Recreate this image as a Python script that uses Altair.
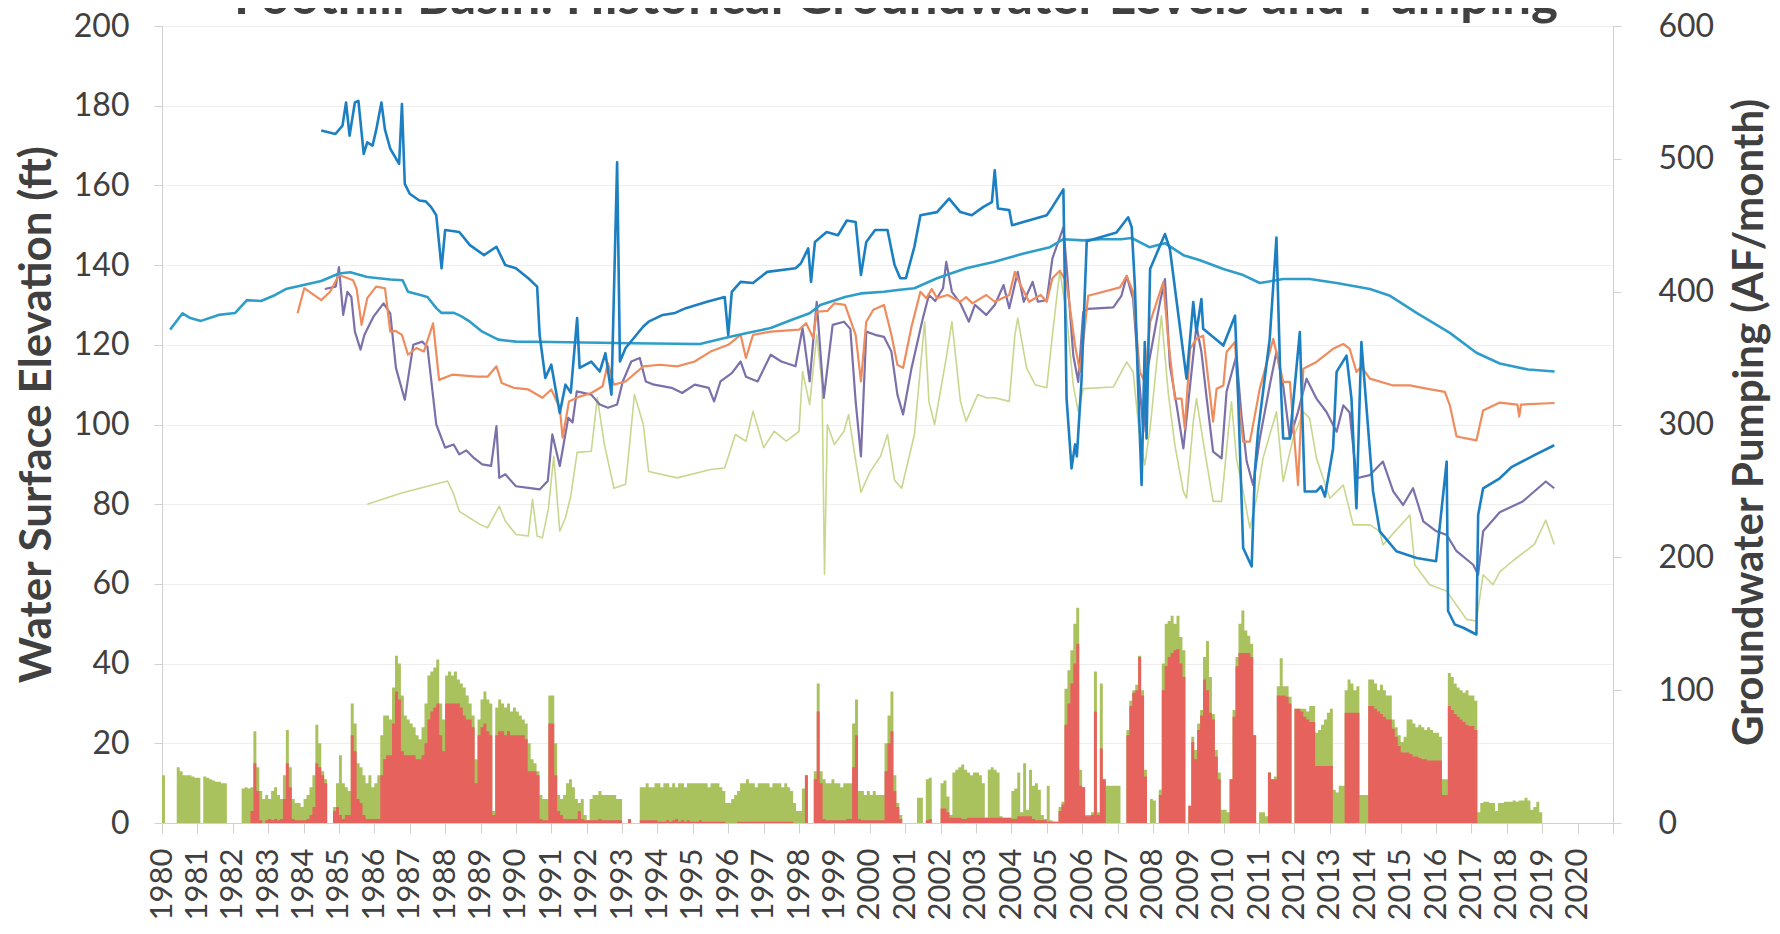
import altair as alt
import pandas as pd

TITLE = "Foothill Basin:  Historical Groundwater Levels and Pumping"
LEFT_TITLE = "Water Surface Elevation (ft)"
RIGHT_TITLE = "Groundwater Pumping (AF/month)"
YEAR_TICKS = list(range(1980, 2022))
LEFT_TICKS = list(range(0, 201, 20))
RIGHT_TICKS = list(range(0, 601, 100))

# ---- water level series (decimal year, ft) ----
SERIES_A = [(1980.23, 123.8), (1980.58, 127.9), (1980.8, 126.7), (1981.1, 126.0), (1981.6, 127.5),
            (1982.07, 128.0), (1982.4, 131.2), (1982.8, 131.0), (1983.2, 132.5), (1983.5, 134.0),
            (1984.0, 135.0), (1984.5, 136.0), (1985.0, 137.9), (1985.32, 138.2), (1985.8, 137.0),
            (1986.45, 136.4), (1986.8, 136.2), (1986.95, 133.3), (1987.3, 132.5), (1987.5, 132.0),
            (1987.75, 129.2), (1987.9, 128.0), (1988.25, 128.0), (1988.45, 127.2), (1988.7, 125.8),
            (1989.05, 123.3), (1989.5, 121.3), (1990.0, 120.8), (1991.0, 120.7), (1993.3, 120.4),
            (1995.2, 120.2), (1995.9, 121.7), (1996.5, 122.9), (1997.2, 124.2), (1997.8, 126.3),
            (1998.3, 127.9), (1998.6, 130.0), (1999.3, 132.0), (1999.75, 132.9), (2000.4, 133.3),
            (2000.85, 133.8), (2001.26, 134.2), (2001.9, 136.7), (2002.72, 139.2), (2003.5, 140.8),
            (2004.35, 142.9), (2005.09, 144.5), (2005.47, 146.5), (2006.03, 146.2), (2006.5, 146.5),
            (2007.1, 146.5), (2007.4, 146.8), (2007.9, 144.5), (2008.34, 145.5), (2008.86, 142.5),
            (2009.33, 141.2), (2009.99, 139.0), (2010.55, 137.5), (2011.02, 135.5), (2011.68, 136.5),
            (2012.43, 136.5), (2013.19, 135.5), (2014.13, 134.0), (2014.7, 132.3), (2015.45, 128.0),
            (2016.39, 123.0), (2017.14, 118.0), (2017.8, 115.3), (2018.6, 113.8), (2019.35, 113.3)]

SERIES_B = [(1984.5, 173.8), (1984.9, 172.9), (1985.1, 175.0), (1985.2, 180.8), (1985.3, 172.5),
            (1985.45, 180.8), (1985.55, 181.2), (1985.7, 167.9), (1985.8, 170.8), (1985.95, 170.0),
            (1986.05, 173.8), (1986.2, 180.8), (1986.3, 174.0), (1986.45, 169.2), (1986.7, 165.4),
            (1986.78, 180.4), (1986.86, 160.4), (1987.0, 157.9), (1987.27, 156.2), (1987.45, 156.0),
            (1987.6, 154.6), (1987.75, 152.5), (1987.9, 139.2), (1988.0, 148.8), (1988.4, 148.3),
            (1988.7, 145.0), (1989.1, 142.5), (1989.45, 144.6), (1989.7, 140.0), (1990.0, 139.2),
            (1990.35, 136.7), (1990.6, 134.6), (1990.67, 122.5), (1990.83, 111.7), (1991.0, 115.0),
            (1991.24, 102.9), (1991.4, 110.0), (1991.55, 108.0), (1991.73, 126.7), (1991.8, 114.2),
            (1992.13, 115.8), (1992.37, 113.3), (1992.53, 117.9), (1992.7, 107.5), (1992.86, 165.8),
            (1992.94, 115.8), (1993.1, 119.2), (1993.6, 124.6), (1993.75, 125.8), (1994.15, 127.5),
            (1994.5, 128.0), (1994.8, 129.2), (1995.4, 130.8), (1995.9, 132.0), (1996.0, 122.5),
            (1996.1, 133.3), (1996.35, 135.8), (1996.7, 135.5), (1997.1, 138.3), (1997.9, 139.2),
            (1998.05, 140.4), (1998.26, 144.2), (1998.34, 135.8), (1998.45, 145.8), (1998.78, 148.3),
            (1999.1, 147.5), (1999.35, 151.2), (1999.6, 150.8), (1999.75, 137.5), (1999.9, 145.8),
            (2000.15, 148.8), (2000.5, 148.8), (2000.7, 140.0), (2000.86, 136.7), (2001.02, 136.7),
            (2001.26, 144.6), (2001.43, 152.5), (2001.9, 153.3), (2002.24, 156.7), (2002.56, 153.3),
            (2002.88, 152.5), (2003.21, 154.6), (2003.45, 155.8), (2003.53, 163.8), (2003.62, 154.2),
            (2003.94, 153.8), (2004.02, 150.0), (2005.0, 152.5), (2005.16, 154.6), (2005.47, 159.0),
            (2005.56, 106.5), (2005.7, 89.0), (2005.8, 95.0), (2005.85, 92.0), (2005.98, 110.7),
            (2006.13, 146.0), (2006.97, 148.2), (2007.3, 152.0), (2007.4, 149.5), (2007.49, 134.8),
            (2007.58, 109.8), (2007.68, 84.8), (2007.77, 120.7), (2007.82, 96.5), (2007.92, 139.0),
            (2008.34, 147.8), (2008.48, 144.0), (2008.95, 111.5), (2009.14, 130.7), (2009.23, 123.2),
            (2009.37, 131.5), (2009.42, 124.0), (2009.99, 119.8), (2010.32, 127.3), (2010.41, 106.5),
            (2010.55, 69.0), (2010.79, 64.4), (2010.88, 88.2), (2010.97, 98.2), (2011.3, 121.5),
            (2011.49, 146.9), (2011.59, 114.8), (2011.68, 96.5), (2011.87, 96.5), (2012.15, 123.2),
            (2012.29, 83.2), (2012.62, 83.2), (2012.75, 84.5), (2012.86, 81.9), (2013.09, 94.0),
            (2013.19, 113.2), (2013.47, 117.3), (2013.61, 106.5), (2013.75, 79.0), (2013.89, 120.7),
            (2014.22, 83.2), (2014.41, 73.2), (2014.88, 68.2), (2015.45, 66.5), (2016.0, 65.7),
            (2016.3, 90.7), (2016.34, 53.2), (2016.53, 49.8), (2016.77, 49.0), (2017.14, 47.3),
            (2017.19, 77.3), (2017.33, 84.0), (2017.8, 86.5), (2018.13, 89.3), (2018.78, 92.3),
            (2019.34, 94.8)]

SERIES_C = [(1983.83, 127.9), (1984.02, 134.2), (1984.5, 131.2), (1984.75, 133.3), (1985.0, 137.5),
            (1985.4, 136.2), (1985.5, 134.0), (1985.64, 125.0), (1985.8, 131.7), (1986.05, 134.6),
            (1986.3, 134.2), (1986.45, 123.3), (1986.6, 123.5), (1986.78, 122.5), (1986.95, 117.5),
            (1987.19, 119.2), (1987.4, 118.3), (1987.66, 125.4), (1987.83, 111.2), (1988.2, 112.5),
            (1988.9, 112.0), (1989.2, 112.0), (1989.45, 114.6), (1989.6, 110.4), (1989.94, 109.2),
            (1990.35, 108.8), (1990.75, 106.7), (1991.0, 108.8), (1991.24, 104.2), (1991.32, 96.7),
            (1991.5, 105.8), (1991.8, 107.0), (1992.13, 107.9), (1992.45, 109.6), (1992.6, 115.4),
            (1992.77, 110.0), (1993.1, 110.8), (1993.6, 114.6), (1994.07, 115.0), (1994.56, 114.6),
            (1995.05, 115.8), (1995.5, 118.3), (1996.0, 120.0), (1996.35, 122.5), (1996.5, 116.7),
            (1996.7, 122.5), (1997.2, 123.3), (1998.0, 123.8), (1998.2, 125.4), (1998.4, 121.7),
            (1998.5, 128.3), (1998.8, 128.5), (1999.0, 130.4), (1999.3, 130.0), (1999.6, 122.5),
            (1999.75, 110.8), (1999.9, 125.8), (2000.1, 128.8), (2000.4, 130.0), (2000.61, 122.5),
            (2000.78, 115.0), (2000.94, 114.2), (2001.18, 124.6), (2001.43, 133.3), (2001.6, 131.7),
            (2001.75, 134.0), (2001.9, 131.7), (2002.2, 132.5), (2002.56, 130.8), (2002.72, 132.0),
            (2002.9, 130.4), (2003.29, 132.5), (2003.53, 130.8), (2003.94, 132.5), (2004.1, 138.3),
            (2004.26, 135.0), (2004.5, 130.8), (2004.83, 132.5), (2005.0, 130.8), (2005.16, 136.7),
            (2005.37, 138.6), (2005.56, 135.7), (2005.8, 119.8), (2005.94, 113.2), (2006.17, 132.3),
            (2007.07, 134.4), (2007.26, 137.3), (2007.44, 133.2), (2007.63, 113.2), (2007.77, 110.7),
            (2007.92, 125.7), (2008.29, 135.7), (2008.43, 121.5), (2008.62, 106.5), (2008.81, 106.5),
            (2008.9, 99.0), (2009.05, 119.0), (2009.23, 121.5), (2009.42, 122.3), (2009.7, 100.7),
            (2009.8, 109.0), (2009.99, 109.8), (2010.08, 118.2), (2010.32, 120.7), (2010.41, 106.5),
            (2010.55, 95.7), (2010.74, 95.7), (2011.02, 109.0), (2011.4, 121.5), (2011.68, 110.7),
            (2011.87, 110.7), (2012.1, 84.8), (2012.25, 114.0), (2012.62, 115.7), (2013.09, 119.0),
            (2013.38, 120.2), (2013.56, 119.0), (2013.75, 113.2), (2013.89, 114.5), (2014.13, 111.5),
            (2014.79, 109.8), (2015.26, 109.8), (2015.73, 109.0), (2016.25, 108.2), (2016.39, 104.8),
            (2016.58, 97.0), (2017.14, 96.0), (2017.33, 103.5), (2017.8, 105.5), (2018.3, 105.0),
            (2018.35, 102.0), (2018.4, 105.0), (2019.35, 105.4)]

SERIES_D = [(1984.6, 134.0), (1984.91, 134.6), (1985.0, 139.5), (1985.12, 127.5), (1985.24, 133.3),
            (1985.35, 132.0), (1985.45, 123.3), (1985.61, 118.8), (1985.72, 122.5), (1985.97, 127.0),
            (1986.26, 130.4), (1986.45, 127.9), (1986.61, 114.2), (1986.86, 106.2), (1987.1, 120.0),
            (1987.35, 120.8), (1987.5, 119.5), (1987.75, 100.0), (1988.0, 94.2), (1988.24, 95.0),
            (1988.4, 92.5), (1988.6, 93.5), (1988.8, 91.7), (1989.05, 90.0), (1989.3, 89.6),
            (1989.45, 99.6), (1989.53, 86.6), (1989.7, 87.5), (1990.0, 84.5), (1990.35, 84.1),
            (1990.67, 83.7), (1990.9, 85.8), (1991.03, 97.5), (1991.24, 89.6), (1991.48, 101.7),
            (1991.6, 100.5), (1991.72, 108.3), (1992.13, 107.5), (1992.37, 105.0), (1992.6, 104.2),
            (1992.86, 105.0), (1993.02, 110.8), (1993.26, 115.8), (1993.5, 116.7), (1993.67, 110.8),
            (1993.9, 110.0), (1994.4, 109.2), (1994.7, 107.9), (1995.05, 110.0), (1995.45, 109.2),
            (1995.6, 105.8), (1995.78, 110.8), (1996.1, 112.9), (1996.35, 115.8), (1996.5, 112.0),
            (1996.83, 110.8), (1997.2, 117.5), (1997.5, 115.8), (1997.9, 114.6), (1998.1, 124.2),
            (1998.3, 110.8), (1998.5, 130.8), (1998.7, 106.7), (1998.95, 125.0), (1999.27, 125.8),
            (1999.45, 124.0), (1999.6, 105.8), (1999.75, 92.0), (1999.9, 123.3), (2000.15, 122.5),
            (2000.4, 122.0), (2000.61, 118.3), (2000.78, 107.5), (2000.94, 102.5), (2001.18, 114.2),
            (2001.5, 126.7), (2001.67, 132.5), (2001.85, 131.0), (2002.07, 134.2), (2002.16, 140.8),
            (2002.32, 133.3), (2002.56, 130.4), (2002.8, 125.8), (2002.97, 130.0), (2003.29, 127.5),
            (2003.53, 130.0), (2003.78, 135.0), (2003.94, 129.2), (2004.18, 138.3), (2004.35, 130.8),
            (2004.6, 135.8), (2004.75, 130.8), (2005.0, 131.2), (2005.16, 141.7), (2005.47, 149.5),
            (2005.56, 139.8), (2005.75, 117.3), (2005.89, 110.7), (2006.03, 128.2), (2006.17, 129.0),
            (2006.88, 129.4), (2007.11, 132.3), (2007.26, 137.3), (2007.44, 131.5), (2007.58, 114.8),
            (2007.73, 98.2), (2007.87, 114.8), (2008.2, 130.7), (2008.34, 136.5), (2008.48, 114.8),
            (2008.67, 104.8), (2008.86, 94.0), (2009.05, 109.8), (2009.23, 124.8), (2009.37, 118.2),
            (2009.52, 106.5), (2009.7, 93.2), (2009.94, 91.5), (2010.08, 108.2), (2010.36, 117.3),
            (2010.5, 102.3), (2010.65, 90.7), (2010.83, 84.8), (2011.02, 96.5), (2011.3, 109.8),
            (2011.49, 118.2), (2011.68, 109.8), (2011.87, 96.5), (2012.1, 103.2), (2012.34, 111.5),
            (2012.62, 106.5), (2012.9, 103.2), (2013.19, 98.2), (2013.38, 104.8), (2013.56, 103.0),
            (2013.75, 86.5), (2014.13, 87.3), (2014.5, 90.7), (2014.79, 83.2), (2015.07, 79.8),
            (2015.35, 84.0), (2015.64, 75.7), (2016.01, 73.2), (2016.3, 72.3), (2016.58, 68.2),
            (2017.05, 64.8), (2017.19, 62.3), (2017.33, 73.2), (2017.8, 78.0), (2018.45, 80.7),
            (2019.1, 85.7), (2019.34, 84.0)]

SERIES_E = [(1985.8, 80.0), (1986.77, 82.8), (1988.07, 85.8), (1988.23, 82.8), (1988.4, 78.2),
            (1988.97, 75.0), (1989.2, 74.1), (1989.53, 79.5), (1989.7, 75.8), (1990.0, 72.4),
            (1990.35, 72.0), (1990.47, 81.2), (1990.6, 72.0), (1990.75, 71.6), (1990.92, 79.0),
            (1991.07, 92.0), (1991.24, 73.2), (1991.4, 76.6), (1991.55, 82.0), (1991.73, 93.0),
            (1992.13, 93.3), (1992.3, 106.7), (1992.5, 95.0), (1992.77, 84.0), (1993.1, 85.0),
            (1993.35, 107.5), (1993.6, 100.0), (1993.75, 88.2), (1994.56, 86.6), (1995.5, 88.7),
            (1995.9, 89.1), (1996.2, 97.5), (1996.5, 95.8), (1996.7, 103.3), (1997.0, 94.2),
            (1997.3, 98.3), (1997.64, 95.8), (1998.0, 98.3), (1998.1, 113.3), (1998.3, 105.0),
            (1998.5, 122.5), (1998.65, 110.0), (1998.72, 62.4), (1998.8, 100.0), (1999.0, 95.0),
            (1999.27, 98.3), (1999.4, 102.5), (1999.6, 91.0), (1999.75, 83.0), (2000.0, 88.0),
            (2000.3, 92.0), (2000.5, 97.5), (2000.7, 86.0), (2000.9, 84.0), (2001.26, 97.5),
            (2001.43, 114.2), (2001.55, 125.8), (2001.67, 105.8), (2001.83, 100.0), (2002.16, 116.7),
            (2002.32, 125.8), (2002.56, 105.8), (2002.72, 100.8), (2003.05, 107.5), (2003.29, 106.7),
            (2003.53, 106.7), (2003.94, 105.8), (2004.1, 122.5), (2004.18, 126.7), (2004.43, 114.2),
            (2004.67, 110.0), (2005.0, 109.2), (2005.16, 122.5), (2005.37, 138.6), (2005.56, 127.3),
            (2005.75, 109.8), (2005.89, 103.2), (2006.03, 109.0), (2006.88, 109.4), (2007.26, 115.7),
            (2007.44, 113.2), (2007.63, 96.5), (2007.77, 89.8), (2007.92, 99.0), (2008.24, 127.3),
            (2008.43, 108.2), (2008.62, 94.8), (2008.86, 83.2), (2008.95, 81.5), (2009.14, 100.7),
            (2009.23, 106.5), (2009.42, 95.7), (2009.7, 80.7), (2009.94, 80.7), (2010.13, 98.2),
            (2010.22, 105.7), (2010.36, 91.5), (2010.55, 83.2), (2010.74, 74.0), (2010.93, 81.5),
            (2011.11, 91.5), (2011.49, 103.2), (2011.68, 85.7), (2011.96, 96.5), (2012.25, 103.2),
            (2012.43, 101.5), (2012.62, 91.5), (2013.0, 81.5), (2013.38, 84.8), (2013.66, 74.8),
            (2014.13, 74.8), (2014.41, 73.2), (2014.5, 69.8), (2015.26, 77.3), (2015.4, 64.8),
            (2015.82, 59.8), (2016.3, 58.2), (2016.86, 51.1), (2017.14, 50.7), (2017.33, 62.3),
            (2017.61, 59.8), (2017.8, 63.0), (2018.2, 66.0), (2018.78, 69.9), (2019.1, 76.0),
            (2019.34, 69.9)]

# ---- monthly pumping (AF/month), Jan..Dec per year ----
TOTAL_1980S = [36, 0, 0, 0, 0, 42, 39, 36, 36, 36, 35, 34,
               34, 0, 35, 34, 33, 32, 31, 31, 30, 30, 0, 0,
               0, 0, 0, 26, 27, 26, 27, 69, 42, 24, 18, 21,
               18, 24, 27, 21, 18, 36, 70, 42, 18, 15, 15, 12,
               18, 21, 27, 36, 74, 60, 39, 33, 0, 0, 12, 30,
               51, 30, 27, 24, 90, 75, 45, 42, 36, 30, 36, 27,
               30, 36, 66, 81, 81, 78, 102, 126, 120, 96, 81, 78,
               75, 72, 66, 63, 72, 90, 111, 114, 117, 123, 90, 78,
               111, 114, 111, 114, 108, 105, 102, 96, 90, 81, 48, 78,
               93, 99, 93, 90, 9, 87, 93, 90, 87, 90, 84, 87]
RED_1980S = [0] * 12 + [0] * 12 + [
             0, 0, 0, 0, 0, 0, 9, 45, 24, 2, 0, 2,
             3, 2, 3, 2, 3, 18, 45, 27, 3, 2, 2, 2,
             2, 3, 6, 12, 45, 42, 36, 30, 0, 0, 9, 12,
             6, 3, 6, 6, 66, 54, 18, 15, 6, 3, 3, 3,
             3, 3, 36, 48, 51, 51, 75, 99, 93, 54, 51, 51,
             51, 51, 48, 48, 51, 60, 78, 84, 87, 90, 66, 54,
             90, 90, 90, 90, 90, 87, 81, 78, 78, 72, 30, 66,
             72, 75, 69, 66, 6, 66, 69, 69, 66, 69, 66, 66]
TOTAL_1990S = [84, 81, 78, 75, 60, 48, 45, 39, 21, 18, 18, 96,
               96, 60, 21, 18, 21, 30, 33, 27, 18, 15, 18, 6,
               2, 18, 21, 21, 24, 21, 21, 21, 21, 21, 18, 18,
               0, 0, 3, 0, 0, 0, 27, 27, 30, 27, 27, 30,
               30, 27, 30, 30, 27, 30, 27, 30, 30, 27, 30, 30,
               30, 30, 30, 30, 30, 27, 30, 30, 30, 27, 24, 15,
               15, 18, 21, 24, 30, 30, 33, 30, 30, 27, 30, 30,
               30, 30, 27, 30, 30, 30, 27, 30, 27, 24, 15, 9,
               9, 26, 36, 0, 0, 39, 105, 39, 33, 30, 30, 33,
               30, 30, 27, 30, 30, 30, 75, 93, 24, 24, 21, 24]
RED_1990S = [66, 66, 66, 63, 39, 39, 39, 36, 3, 2, 2, 75,
             75, 36, 9, 6, 3, 3, 3, 3, 3, 9, 3, 2,
             2, 2, 2, 2, 3, 2, 2, 2, 2, 2, 2, 2,
             0, 0, 3, 0, 0, 0, 2, 2, 2, 2, 2, 2,
             1, 1, 1, 2, 1, 2, 3, 1, 2, 1, 2, 1,
             1, 1, 2, 1, 1, 1, 1, 1, 1, 1, 1, 0,
             0, 0, 0, 1, 1, 1, 1, 1, 1, 1, 1, 1,
             1, 1, 1, 1, 1, 1, 1, 1, 1, 1, 0, 0,
             0, 0, 36, 0, 0, 33, 84, 30, 3, 2, 2, 2,
             2, 2, 2, 2, 3, 3, 42, 66, 3, 2, 2, 2]
TOTAL_2000S = [21, 24, 21, 21, 21, 60, 81, 99, 36, 15, 6, 0,
               0, 0, 0, 0, 19, 19, 0, 33, 34, 0, 0, 0,
               30, 32, 20, 6, 38, 40, 42, 44, 40, 38, 36, 38,
               38, 36, 30, 4, 40, 42, 40, 38, 5, 4, 4, 4,
               24, 26, 38, 8, 45, 10, 40, 28, 30, 25, 6, 3,
               28, 2, 1, 1, 12, 16, 101, 115, 130, 150, 162, 40,
               27, 6, 6, 8, 114, 8, 105, 33, 28, 28, 28, 28,
               28, 0, 0, 70, 92, 100, 104, 126, 100, 40, 0, 18,
               17, 0, 25, 120, 150, 152, 156, 150, 156, 140, 130, 0,
               13, 65, 55, 75, 85, 125, 137, 110, 82, 55, 38, 10]
RED_2000S = [2, 2, 2, 2, 2, 39, 60, 69, 24, 12, 3, 0,
             0, 0, 0, 0, 0, 0, 0, 2, 3, 0, 0, 0,
             11, 11, 8, 4, 4, 4, 4, 3, 3, 4, 4, 4,
             4, 4, 4, 4, 4, 4, 4, 4, 4, 4, 4, 4,
             3, 3, 5, 5, 5, 5, 5, 3, 2, 2, 2, 2,
             1, 1, 1, 1, 9, 14, 74, 90, 105, 120, 135, 28,
             27, 5, 5, 6, 84, 6, 56, 33, 0, 0, 0, 0,
             0, 0, 0, 66, 88, 98, 100, 125, 96, 35, 0, 0,
             0, 0, 21, 100, 118, 125, 128, 130, 131, 120, 110, 0,
             13, 61, 48, 70, 81, 108, 100, 83, 78, 50, 33, 0]
TOTAL_2010S = [10, 8, 33, 85, 125, 150, 160, 145, 141, 135, 66, 0,
               8, 8, 5, 38, 33, 35, 103, 124, 103, 103, 95, 0,
               86, 86, 86, 86, 84, 88, 88, 68, 70, 74, 78, 83,
               86, 25, 23, 28, 28, 100, 108, 105, 100, 103, 21, 21,
               21, 108, 108, 105, 100, 104, 100, 96, 96, 78, 72, 66,
               61, 65, 78, 78, 75, 72, 74, 72, 70, 72, 70, 68,
               68, 65, 33, 33, 113, 110, 105, 102, 100, 98, 100, 96,
               96, 92, 8, 15, 16, 16, 15, 15, 9, 15, 15, 16,
               16, 16, 17, 16, 17, 17, 19, 17, 10, 12, 16, 8]
RED_2010S = [0, 0, 33, 80, 118, 128, 128, 128, 128, 125, 66, 0,
             0, 0, 0, 38, 33, 33, 96, 96, 96, 95, 90, 0,
             86, 86, 84, 80, 78, 76, 76, 43, 43, 43, 43, 43,
             43, 0, 0, 0, 0, 83, 83, 83, 83, 83, 0, 0,
             0, 88, 88, 86, 84, 82, 80, 78, 78, 71, 65, 58,
             53, 53, 53, 52, 50, 50, 49, 48, 48, 47, 47, 47,
             47, 47, 21, 21, 88, 85, 82, 80, 78, 76, 74, 73,
             73, 70, 0, 0, 0, 0, 0, 0, 0, 0, 0, 0,
             0, 0, 0, 0, 0, 0, 0, 0, 0, 0, 0, 0]

RED_COLOR = "#E5625D"
GREEN_COLOR = "#A9C25E"
TEXT_COLOR = "#404040"
FONT = "Lato"

# ---- build tables ----
rows = []
for start, tot, red in [(1980, TOTAL_1980S, RED_1980S), (1990, TOTAL_1990S, RED_1990S),
                        (2000, TOTAL_2000S, RED_2000S), (2010, TOTAL_2010S, RED_2010S)]:
    for i, (t, r) in enumerate(zip(tot, red)):
        rows.append({"t": start + i / 12.0, "total": t, "red": r})
rows.append({"t": 2019.0, "total": 0, "red": 0})
pump = pd.DataFrame(rows)

xscale = alt.Scale(domain=[1980, 2021], nice=False, zero=False)
left_scale = alt.Scale(domain=[0, 200], nice=False)
right_scale = alt.Scale(domain=[0, 600], nice=False)

x_axis = alt.Axis(values=YEAR_TICKS, format="d",
                  labelExpr="datum.value > 2020 ? '' : datum.label",
                  labelAngle=270, labelAlign="right", labelBaseline="middle",
                  labelFont=FONT, labelFontSize=31, labelColor=TEXT_COLOR,
                  labelPadding=15, labelOverlap=False, labelFlush=False,
                  tickSize=10, tickColor="#D0D0D0", domainColor="#D0D0D0",
                  grid=False, title=None)

right_axis = alt.Axis(values=RIGHT_TICKS, orient="right", grid=False,
                      tickSize=8, tickColor="#D0D0D0", domainColor="#D0D0D0",
                      labelFont=FONT, labelFontSize=32, labelColor=TEXT_COLOR,
                      labelPadding=37, labelFlush=False,
                      title=RIGHT_TITLE, titleFont=FONT, titleFontSize=42,
                      titleFontWeight="bold", titleColor=TEXT_COLOR, titleAngle=270,
                      titleX=136, titleY=396, titleAlign="center", titleBaseline="middle")

left_axis = alt.Axis(values=LEFT_TICKS, orient="left", grid=True, gridColor="#EEEEEE",
                     tickSize=8, tickColor="#D0D0D0", domainColor="#D0D0D0",
                     labelFont=FONT, labelFontSize=32, labelColor=TEXT_COLOR,
                     labelPadding=25, labelFlush=False,
                     title=LEFT_TITLE, titleFont=FONT, titleFontSize=44,
                     titleFontWeight="bold", titleColor=TEXT_COLOR, titleAngle=270,
                     titleX=-125, titleY=388, titleAlign="center", titleBaseline="middle")

green = alt.Chart(pump).mark_area(interpolate="step-after", color=GREEN_COLOR).encode(
    x=alt.X("t:Q", scale=xscale, axis=x_axis),
    y=alt.Y("total:Q", scale=right_scale, axis=right_axis))
red = alt.Chart(pump).mark_area(interpolate="step-after", color=RED_COLOR).encode(
    x=alt.X("t:Q", scale=xscale, axis=x_axis),
    y=alt.Y("red:Q", scale=right_scale, axis=right_axis))
bars = alt.layer(green, red)


def line(points, color, width):
    df = pd.DataFrame(points, columns=["year", "val"])
    return alt.Chart(df).mark_line(color=color, strokeWidth=width, strokeJoin="round").encode(
        x=alt.X("year:Q", scale=xscale, axis=x_axis),
        y=alt.Y("val:Q", scale=left_scale, axis=left_axis))


title = alt.Chart(pd.DataFrame({"txt": [TITLE]})).mark_text(
    font=FONT, fontSize=51, fontWeight="bold", color=TEXT_COLOR,
    align="center", baseline="alphabetic").encode(
    text="txt:N", x=alt.value(734), y=alt.value(-12))

lines = alt.layer(
    line(SERIES_E, "#C8D78E", 1.6),
    line(SERIES_D, "#7C70AA", 2.2),
    line(SERIES_C, "#EF8C5E", 2.2),
    line(SERIES_A, "#2F9DC9", 2.6),
    line(SERIES_B, "#1C7FC2", 2.6),
    title,
)

chart = alt.layer(bars, lines).resolve_scale(y="independent").properties(
    width=1451, height=797,
    autosize=alt.AutoSizeParams(type="none"),
    padding={"left": 154, "top": 18, "right": 159, "bottom": 102},
    background="white",
).configure_view(strokeWidth=0)

chart.save("out.html", embed_options={"renderer": "svg", "actions": False})
